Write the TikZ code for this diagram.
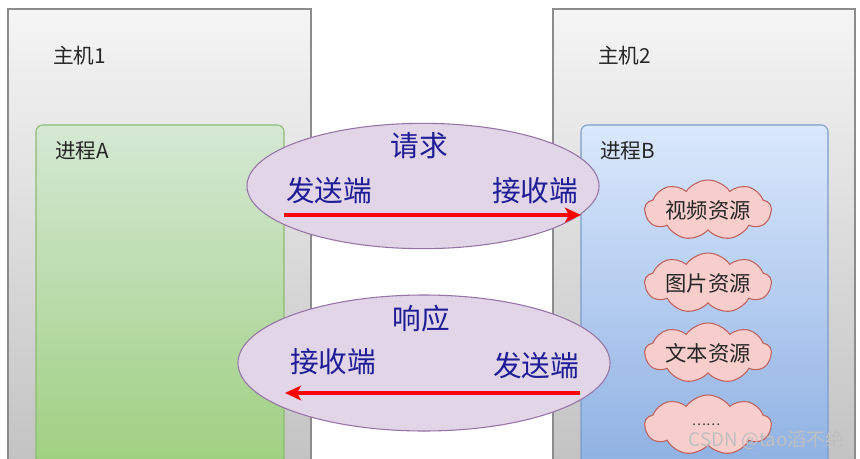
\documentclass[tikz,border=0pt]{standalone}
\usepackage{fontspec}
\setmainfont{Noto Sans CJK SC}
\usetikzlibrary{shapes.geometric,shapes.symbols,arrows.meta}
\definecolor{hostedge}{HTML}{8C8C8C}
\definecolor{hosttop}{HTML}{F5F5F5}
\definecolor{hostbot}{HTML}{C2C2C2}
\definecolor{gtop}{HTML}{D5E8D4}
\definecolor{gbot}{HTML}{9CCF7E}
\definecolor{gedge}{HTML}{8DBB72}
\definecolor{btop}{HTML}{DAE8FC}
\definecolor{bbot}{HTML}{8DB0E2}
\definecolor{bedge}{HTML}{7C9CCB}
\definecolor{efill}{HTML}{E1D5E7}
\definecolor{eedge}{HTML}{9673A6}
\definecolor{etext}{HTML}{1E1C96}
\definecolor{cfill}{HTML}{F8CECC}
\definecolor{cedge}{HTML}{C0615D}
\tikzset{
  hostbox/.style={draw=hostedge, line width=0.9pt, top color=hosttop, bottom color=hostbot},
  lbl/.style={anchor=west, inner sep=0pt, font=\fontsize{15.5}{18}\selectfont, text=black!85},
  ell/.style={ellipse, draw=eedge, fill=efill, line width=0.8pt, inner sep=0pt},
  etxt/.style={inner sep=0pt, font=\fontsize{21.5}{24}\selectfont, text=etext},
  res/.style={cloud, cloud puffs=9, cloud puff arc=110, aspect=2.1, draw=cedge, fill=cfill, line width=0.8pt,
              minimum width=95pt, minimum height=45pt, inner sep=0pt},
  restxt/.style={inner sep=0pt, font=\fontsize{16}{18}\selectfont, text=black!85},
  redarrow/.style={draw=red, line width=2.4pt, -{Stealth[length=12pt,width=11pt,inset=3pt]}}
}
\begin{document}
\begin{tikzpicture}[x=0.75pt,y=-0.75pt]
\useasboundingbox (0,0) rectangle (860,458);
\fill[white] (0,0) rectangle (860,458);
% hosts
\path[hostbox] (8,9) rectangle (311,470);
\path[hostbox] (553,9) rectangle (855,470);
\node[lbl] (h1) at (53,56) {主机1};
\node[lbl] (h2) at (598,56) {主机2};
% processes
\path[draw=gedge, line width=0.8pt, top color=gtop, bottom color=gbot, rounded corners=5pt] (36,125) rectangle (284,475);
\path[draw=bedge, line width=0.8pt, top color=btop, bottom color=bbot, rounded corners=5pt] (581,125) rectangle (828,475);
\node[lbl] (pa) at (55,151) {进程A};
\node[lbl] (pb) at (600,151) {进程B};
% request ellipse
\node[ell, minimum width=264pt, minimum height=94pt] (req) at (423,186) {};
\node[etxt] (reqt) at (419,146) {请求};
\node[etxt] (snd1) at (329,191) {发送端};
\node[etxt] (rcv1) at (535,191) {接收端};
\coordinate (a1s) at (284,215);
\coordinate (a1e) at (581,215);
\draw[redarrow] (a1s) -- (a1e);
% response ellipse
\node[ell, minimum width=279pt, minimum height=102pt] (rsp) at (424,363) {};
\node[etxt] (rspt) at (421,319) {响应};
\node[etxt] (rcv2) at (333,362) {接收端};
\node[etxt] (snd2) at (536,366) {发送端};
\coordinate (a2s) at (580,393);
\coordinate (a2e) at (285,393);
\draw[redarrow] (a2s) -- (a2e);
% resources
\node[res] (r1) at (708,210) {};
\node[res] (r2) at (708,283) {};
\node[res] (r3) at (708,353) {};
\node[res] (r4) at (708,425) {};
\node[restxt] (t1) at (r1) {视频资源};
\node[restxt] (t2) at (r2) {图片资源};
\node[restxt] (t3) at (r3) {文本资源};
\node[inner sep=0pt, font=\fontsize{10}{12}\selectfont, text=black!80] (dots) at (706,425) {……};
\node[inner sep=0pt, anchor=east, font=\fontsize{14}{16}\selectfont, text=gray!50] (wm) at (844,440) {CSDN @tao滔不绝};
\end{tikzpicture}
\end{document}
